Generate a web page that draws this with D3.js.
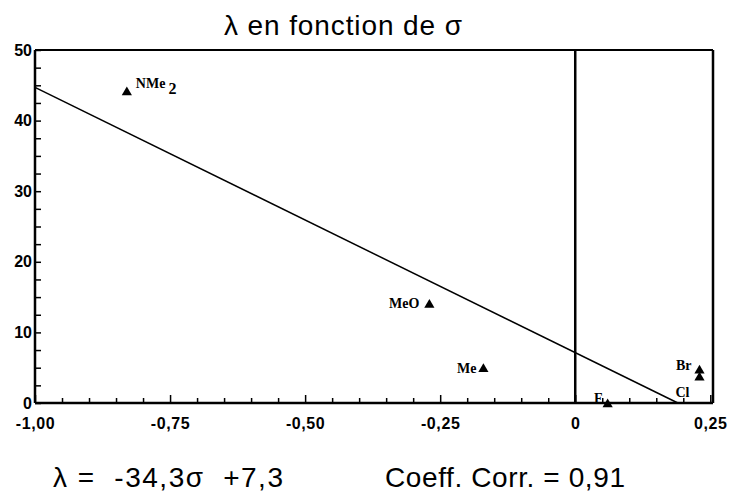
<!DOCTYPE html>
<html>
<head>
<meta charset="utf-8">
<script src="https://cdn.jsdelivr.net/npm/d3@7"></script>
<style>
  html, body { margin: 0; padding: 0; background: #fff; }
  svg { display: block; }
  text { white-space: pre; }
</style>
</head>
<body>
<svg id="chart" width="731" height="501"></svg>
<script>
// ---- data ----
const substituents = ["NMe", "MeO", "Me", "F", "Br", "Cl"];
const sigmaValues  = [-0.83, -0.27, -0.17, 0.06, 0.23, 0.23];
const lambdaValues = [44.0, 13.9, 4.8, -0.2, 4.6, 3.6];
const fitSigma  = [-1.0, 0.19];
const fitLambda = [44.7, 0.0];
const xMajorTicks = [-1.0, -0.75, -0.5, -0.25, 0, 0.25];
const xTickLabels = ["-1,00", "-0,75", "-0,50", "-0,25", "0", "0,25"];
const xMinorTicks = d3.range(-0.95, 0.25, 0.05).map(v => +v.toFixed(2)).filter(v => Math.abs((v * 4) - Math.round(v * 4)) > 1e-6);
const yMajorTicks = [0, 10, 20, 30, 40, 50];
const yTickLabels = ["0", "10", "20", "30", "40", "50"];
const yMinorTicks = d3.range(2.5, 50, 2.5).filter(v => v % 10 !== 0);
const titleText = "λ en fonction de σ";
const equationText = "λ =  -34,3σ  +7,3";
const corrText = "Coeff. Corr. = 0,91";

// ---- layout ----
const svg = d3.select("#chart");
const x = d3.scaleLinear().domain([-1.0, 0.255]).range([35, 713]);
const y = d3.scaleLinear().domain([0, 50]).range([403, 50]);
const sans = "'Liberation Sans', Arial, Helvetica, sans-serif";
const serif = "'Liberation Serif', 'Times New Roman', serif";

// title
svg.append("text")
  .attr("x", 224).attr("y", 35)
  .attr("font-family", sans).attr("font-size", 28)
  .attr("textLength", 238).attr("lengthAdjust", "spacing")
  .attr("fill", "#000")
  .text(titleText);

// frame
const frame = svg.append("g").attr("stroke", "#000").attr("fill", "none");
frame.append("line").attr("x1", x(-1)).attr("x2", x(0.255)).attr("y1", y(50)).attr("y2", y(50)).attr("stroke-width", 2);
frame.append("line").attr("x1", x(0.255)).attr("x2", x(0.255)).attr("y1", y(50)).attr("y2", y(0)).attr("stroke-width", 2.5);
frame.append("line").attr("x1", x(0)).attr("x2", x(0)).attr("y1", y(50)).attr("y2", y(0)).attr("stroke-width", 2.5);

// x axis (ticks pointing up)
const gx = svg.append("g").attr("transform", `translate(0,${y(0)})`);
gx.append("g").call(d3.axisBottom(x).tickValues(xMinorTicks).tickSize(-5).tickSizeOuter(0).tickFormat(""))
  .call(g => g.select(".domain").remove());
gx.append("g").call(d3.axisBottom(x).tickValues(xMajorTicks).tickSize(-8).tickSizeOuter(0).tickPadding(15)
    .tickFormat((d, i) => xTickLabels[i]))
  .call(g => g.select(".domain").remove())
  .call(g => g.selectAll("text").attr("font-family", sans).attr("font-size", 16).attr("font-weight", "bold")
    .attr("letter-spacing", 0.6).attr("fill", "#000"));
gx.selectAll("line").attr("stroke", "#000").attr("stroke-width", 1.5);

// y axis (ticks pointing right)
const gy = svg.append("g").attr("transform", `translate(${x(-1)},0)`);
gy.append("g").call(d3.axisLeft(y).tickValues(yMinorTicks).tickSize(-6).tickSizeOuter(0).tickFormat(""))
  .call(g => g.select(".domain").remove());
gy.append("g").call(d3.axisLeft(y).tickValues(yMajorTicks).tickSize(-6).tickSizeOuter(0).tickPadding(3)
    .tickFormat((d, i) => yTickLabels[i]))
  .call(g => g.select(".domain").remove())
  .call(g => g.selectAll("text").attr("font-family", sans).attr("font-size", 16).attr("font-weight", "bold").attr("fill", "#000"));
gy.selectAll("line").attr("stroke", "#000").attr("stroke-width", 1.5);

// main axes lines
svg.append("line").attr("x1", x(-1)).attr("x2", x(-1)).attr("y1", y(50)).attr("y2", y(0))
  .attr("stroke", "#000").attr("stroke-width", 2.5);
svg.append("line").attr("x1", x(-1)).attr("x2", x(0.255)).attr("y1", y(0)).attr("y2", y(0))
  .attr("stroke", "#000").attr("stroke-width", 2.5);

// regression line
const fit = fitSigma.map((s, i) => [s, fitLambda[i]]);
svg.append("path")
  .attr("d", d3.line().x(d => x(d[0])).y(d => y(d[1]))(fit))
  .attr("stroke", "#000").attr("stroke-width", 1.5).attr("fill", "none");

// points
const pts = substituents.map((n, i) => ({ name: n, s: sigmaValues[i], l: lambdaValues[i] }));
svg.append("g").selectAll("path").data(pts).join("path")
  .attr("d", d3.symbol(d3.symbolTriangle, 45))
  .attr("transform", d => `translate(${x(d.s)},${y(d.l)})`)
  .attr("fill", "#000");

// labels (offsets relative to each point)
const labelStyle = {
  NMe: { dx: 9, dy: -4, anchor: "start" },
  MeO: { dx: -10, dy: 3, anchor: "end" },
  Me:  { dx: -7, dy: 4, anchor: "end" },
  F:   { dx: -5, dy: -1, anchor: "end" },
  Br:  { dx: -8, dy: -1, anchor: "end" },
  Cl:  { dx: -10, dy: 19, anchor: "end" }
};
const lab = svg.append("g").attr("font-family", serif).attr("font-size", 14).attr("font-weight", "bold").attr("fill", "#000");
pts.forEach(d => {
  const st = labelStyle[d.name];
  const t = lab.append("text")
    .attr("x", x(d.s) + st.dx).attr("y", y(d.l) + st.dy)
    .attr("text-anchor", st.anchor)
    .text(d.name);
  if (d.name === "NMe") {
    t.append("tspan").attr("dx", 3).attr("dy", 6).attr("font-size", 16).text("2");
  }
});

// bottom texts
svg.append("text")
  .attr("x", 53).attr("y", 487)
  .attr("font-family", sans).attr("font-size", 28).attr("fill", "#000")
  .attr("textLength", 230).attr("lengthAdjust", "spacing")
  .text(equationText);
svg.append("text")
  .attr("x", 385).attr("y", 487)
  .attr("font-family", sans).attr("font-size", 28).attr("fill", "#000")
  .attr("textLength", 240).attr("lengthAdjust", "spacing")
  .text(corrText);
</script>
</body>
</html>
